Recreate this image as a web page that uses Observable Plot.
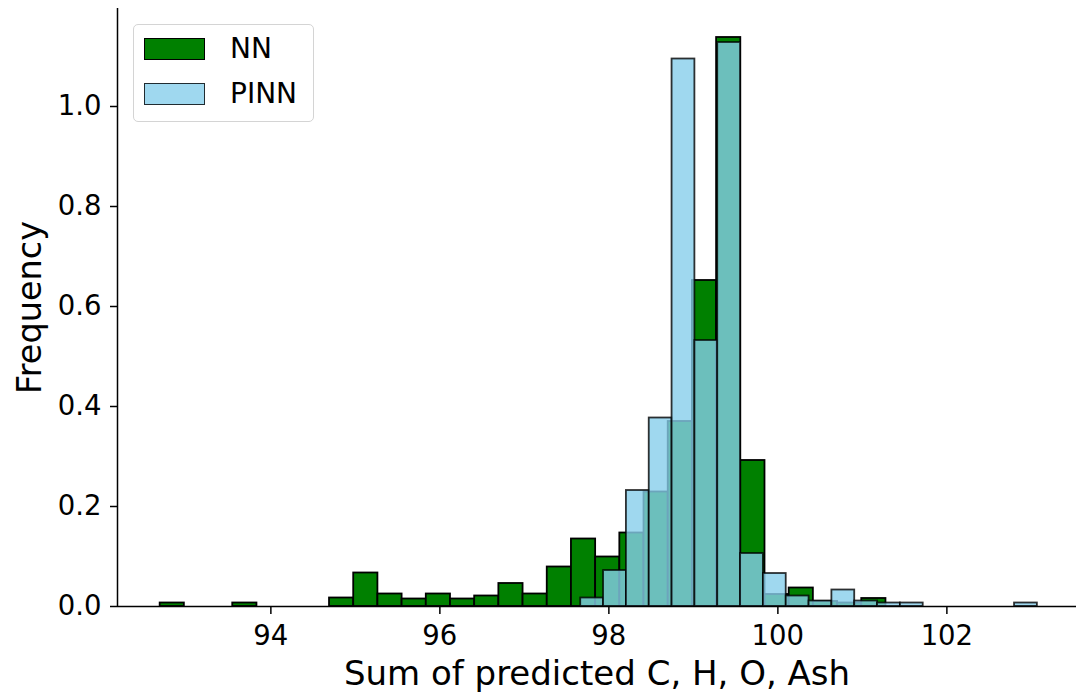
<!DOCTYPE html>
<html>
<head>
<meta charset="utf-8">
<script src="https://cdn.jsdelivr.net/npm/d3@7"></script>
<script src="https://cdn.jsdelivr.net/npm/@observablehq/plot@0.6"></script>
<style>
  body { margin: 0; background: #fff; }
  #wrap { position: relative; width: 1076px; height: 692px; font-family: "DejaVu Sans", sans-serif; }
  #legend { position: absolute; left: 133px; top: 24px; width: 179px; height: 96px;
            border: 1px solid #d4d4d4; border-radius: 5px; background: rgba(255,255,255,0.8); }
  .sw { position: absolute; left: 10px; width: 61px; height: 22px; box-sizing: border-box; }
  .lab { position: absolute; left: 96px; font-size: 28px; line-height: 28px; color: #000; }
</style>
</head>
<body>
<div id="wrap"></div>
<script>
// ---- data (density-normalised histograms) ----
const seriesNames = ["NN", "PINN"];
const seriesFill = ["#008000", "#87ceeb"];

// NN: 30 bins
const nnBinStart = 92.69;
const nnBinWidth = 0.2863;
const nnFreq = [0.007, 0, 0, 0.007, 0, 0, 0, 0.017, 0.067, 0.025,
                0.015, 0.025, 0.015, 0.021, 0.046, 0.025, 0.079, 0.135, 0.099, 0.147,
                0.229, 0.370, 0.652, 1.138, 0.292, 0.024, 0.037, 0.010, 0.007, 0.016];

// PINN: 20 bins
const pinnBinStart = 97.667;
const pinnBinWidth = 0.2702;
const pinnFreq = [0.017, 0.072, 0.232, 0.377, 1.095, 0.532, 1.128, 0.106, 0.066, 0.021,
                  0.011, 0.033, 0.011, 0.007, 0.007, 0, 0, 0, 0, 0.007];

const xTicks = [94, 96, 98, 100, 102];
const yTicks = [0, 0.2, 0.4, 0.6, 0.8, 1.0];
const xDomain = [92.185, 103.534];
const yDomain = [0, 1.196];
const xLabel = "Sum of predicted C, H, O, Ash";
const yLabel = "Frequency";

function toBins(start, w, freq, name) {
  return freq.map((f, i) => ({series: name, x1: start + i * w, x2: start + (i + 1) * w, y: f}))
             .filter(d => d.y > 0);
}
const nnBins = toBins(nnBinStart, nnBinWidth, nnFreq, seriesNames[0]);
const pinnBins = toBins(pinnBinStart, pinnBinWidth, pinnFreq, seriesNames[1]);

const chart = Plot.plot({
  width: 1076,
  height: 692,
  marginLeft: 117,
  marginRight: 0,
  marginTop: 8,
  marginBottom: 86,
  style: {fontFamily: "DejaVu Sans, sans-serif", color: "#000", background: "#fff"},
  x: {domain: xDomain},
  y: {domain: yDomain},
  marks: [
    Plot.rect(nnBins, {x1: "x1", x2: "x2", y1: () => 0, y2: "y", fill: seriesFill[0],
                       stroke: "#000", strokeWidth: 1.8}),
    Plot.rect(pinnBins, {x1: "x1", x2: "x2", y1: () => 0, y2: "y", fill: seriesFill[1], fillOpacity: 0.8,
                         stroke: "#000", strokeOpacity: 0.8, strokeWidth: 1.8}),
    Plot.axisX({ticks: xTicks, tickSize: 8, tickPadding: 11, fontSize: 27.5, tickFormat: d => String(d),
                label: null, strokeWidth: 1.5}),
    Plot.axisY({ticks: yTicks, tickSize: 7, tickPadding: 9, fontSize: 27.5, tickFormat: d3.format(".1f"),
                label: null, strokeWidth: 1.5}),
    Plot.ruleY([0], {stroke: "#000", strokeWidth: 1.5}),
    Plot.ruleX([xDomain[0]], {stroke: "#000", strokeWidth: 1.5}),
    Plot.text([xLabel], {frameAnchor: "bottom", textAnchor: "middle", lineAnchor: "middle",
                         dy: 68, fontSize: 34, fill: "#000"}),
    Plot.text([yLabel], {frameAnchor: "left", textAnchor: "middle", lineAnchor: "middle",
                         dx: -87, rotate: -90, fontSize: 33.5, fill: "#000"})
  ]
});

const wrap = document.getElementById("wrap");
wrap.appendChild(chart);

// legend
const legend = document.createElement("div");
legend.id = "legend";
const swStyles = [
  {bg: seriesFill[0], border: "1.8px solid #000"},
  {bg: "rgba(135,206,235,0.8)", border: "1.8px solid rgba(0,0,0,0.8)"}
];
seriesNames.forEach((name, i) => {
  const sw = document.createElement("div");
  sw.className = "sw";
  sw.style.top = (13 + i * 45) + "px";
  sw.style.background = swStyles[i].bg;
  sw.style.border = swStyles[i].border;
  legend.appendChild(sw);
  const lab = document.createElement("div");
  lab.className = "lab";
  lab.style.top = (10 + i * 45) + "px";
  lab.textContent = name;
  legend.appendChild(lab);
});
wrap.appendChild(legend);
</script>
</body>
</html>
